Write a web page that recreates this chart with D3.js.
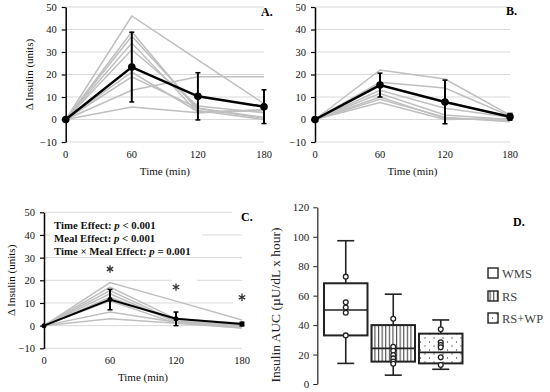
<!DOCTYPE html>
<html>
<head>
<meta charset="utf-8">
<script src="https://cdn.jsdelivr.net/npm/d3@7"></script>
<style>
  body { margin: 0; background: #fff; }
  svg { display: block; font-family: "Liberation Serif", "Times New Roman", serif; }
</style>
</head>
<body>
<div id="chart"></div>
<script>
// ---- data ----
const timePoints = [0, 60, 120, 180];
const yTicksLine = [-10, 0, 10, 20, 30, 40, 50];

// panel A: individual responses + mean/SD
const subjectsA = [
  [0, 46, 26.5, 7],
  [0, 39, 4, 0],
  [0, 37, 5, 0.5],
  [0, 34, 3, 4],
  [0, 31, 6, 3],
  [0, 21, 3.5, 4],
  [0, 19, 5, 1],
  [0, 13, 19, 19],
  [0, 5.5, 3, 4.5]
];
const meanA = [0, 23.3, 10.3, 5.7];
const sdA = [0, 15.5, 10.5, 7.5];

// panel B
const subjectsB = [
  [0, 22, 18, 2],
  [0, 16.5, 14, 1.5],
  [0, 13, 5, 1],
  [0, 11.5, 2, 0],
  [0, 10, 0.5, -0.5],
  [0, 9, 1, -1],
  [0, 7.5, 0, 0.5]
];
const meanB = [0, 15.3, 7.8, 1.2];
const sdB = [0, 5.3, 9.7, 1.5];

// panel C
const subjectsC = [
  [0, 19, 10.8, 2.5],
  [0, 17, 3, 1],
  [0, 15.5, 2, 0],
  [0, 14, 1.5, -0.5],
  [0, 12.5, 2, 0],
  [0, 11, 1, -1],
  [0, 6, 1.5, -1],
  [0, 3, 1, 0.5]
];
const meanC = [0, 11.5, 3, 0.7];
const sdC = [0, 4.5, 3, 0.8];
const starValuesC = [25, 17, 12.5];   // height of * over 60, 120, 180
const statLines = [
  ["Time Effect: ", "p", " < 0.001"],
  ["Meal Effect: ", "p", " < 0.001"],
  ["Time \u00d7 Meal Effect: ", "p", " = 0.001"]
];

// panel D: insulin AUC box plots
const boxGroups = ["WMS", "RS", "RS+WP"];
const boxMin = [14, 6, 10];
const boxQ1 = [33, 15.2, 14];
const boxMedian = [50.3, 24.2, 21.5];
const boxQ3 = [68.4, 40, 34.2];
const boxMax = [97.3, 61, 43.5];
const boxPoints = [
  [72.9, 55.5, 52, 48.4, 33],
  [44.3, 25.3, 22.6, 19.7, 17.4, 15.2, 13.8],
  [37.1, 28.3, 26.5, 24.9, 18.1, 12.9]
];
const yTicksBox = [0, 20, 40, 60, 80, 100, 120];

// ---- drawing ----
const svg = d3.select("#chart").append("svg")
  .attr("width", 550).attr("height", 392);

const defs = svg.append("defs");
const stripes = defs.append("pattern")
  .attr("id", "stripes").attr("patternUnits", "userSpaceOnUse")
  .attr("width", 3.6).attr("height", 4);
stripes.append("rect").attr("width", 3.6).attr("height", 4).attr("fill", "#fff");
stripes.append("line").attr("x1", 0.6).attr("x2", 0.6).attr("y1", 0).attr("y2", 4)
  .attr("stroke", "#333").attr("stroke-width", 1);

const dots = defs.append("pattern")
  .attr("id", "dots").attr("patternUnits", "userSpaceOnUse")
  .attr("width", 9).attr("height", 8);
dots.append("rect").attr("width", 9).attr("height", 8).attr("fill", "#fff");
dots.append("circle").attr("cx", 2).attr("cy", 2).attr("r", 0.65).attr("fill", "#444");
dots.append("circle").attr("cx", 6.5).attr("cy", 6).attr("r", 0.65).attr("fill", "#444");

function linePanel(opt) {
  const g = svg.append("g");
  const x = d3.scaleLinear().domain([0, 180]).range([opt.x0, opt.x1]);
  const y = d3.scaleLinear().domain([-10, 50]).range([opt.yBottom, opt.yTop]);

  // gridlines
  g.selectAll(".grid").data(yTicksLine).enter().append("line")
    .attr("x1", opt.x0).attr("x2", opt.x1)
    .attr("y1", d => y(d)).attr("y2", d => y(d))
    .attr("stroke", "#d9d9d9").attr("stroke-width", 1);

  // y axis
  const yAxis = g.append("g")
    .attr("transform", `translate(${opt.x0},0)`)
    .call(d3.axisLeft(y).tickValues(yTicksLine).tickSize(4).tickSizeOuter(0).tickPadding(5));
  yAxis.attr("font-family", null);
  yAxis.select(".domain").attr("stroke", "#000").attr("stroke-width", 1.5);
  yAxis.selectAll(".tick line").attr("stroke", "#000").attr("stroke-width", 1.2);
  yAxis.selectAll("text").attr("font-size", 10.5).attr("fill", "#111");

  // x tick labels (no axis line in the original)
  g.selectAll(".xt").data(timePoints).enter().append("text")
    .attr("x", d => x(d)).attr("y", opt.yBottom + 16)
    .attr("text-anchor", "middle").attr("font-size", 10.5).attr("fill", "#111")
    .text(d => d);

  g.append("text").attr("x", (opt.x0 + opt.x1) / 2).attr("y", opt.yBottom + 33)
    .attr("text-anchor", "middle").attr("font-size", 11).attr("fill", "#111")
    .text("Time (min)");

  if (opt.yLabel) {
    g.append("text")
      .attr("transform", `translate(${opt.yLabelX},${(opt.yTop + opt.yBottom) / 2}) rotate(-90)`)
      .attr("text-anchor", "middle").attr("font-size", 11).attr("fill", "#111")
      .text("\u0394 Insulin (units)");
  }

  const line = d3.line().x((d, i) => x(timePoints[i])).y(d => y(d));

  g.selectAll(".subj").data(opt.subjects).enter().append("path")
    .attr("d", line).attr("fill", "none")
    .attr("stroke", "#bfbfbf").attr("stroke-width", 1.5);

  // error bars
  opt.mean.forEach((m, i) => {
    const s = opt.sd[i];
    if (!s) return;
    const cx = x(timePoints[i]);
    g.append("line").attr("x1", cx).attr("x2", cx)
      .attr("y1", y(m - s)).attr("y2", y(m + s))
      .attr("stroke", "#000").attr("stroke-width", 2);
    [m - s, m + s].forEach(v => {
      g.append("line").attr("x1", cx - 2.5).attr("x2", cx + 2.5)
        .attr("y1", y(v)).attr("y2", y(v))
        .attr("stroke", "#000").attr("stroke-width", 1.5);
    });
  });

  g.append("path").datum(opt.mean).attr("d", line).attr("fill", "none")
    .attr("stroke", "#000").attr("stroke-width", opt.meanWidth);
  g.selectAll(".mpt").data(opt.mean).enter().append("circle")
    .attr("cx", (d, i) => x(timePoints[i])).attr("cy", d => y(d))
    .attr("r", opt.dotR).attr("fill", "#000");

  return { g, x, y };
}

const pA = linePanel({ x0: 65.7, x1: 264, yTop: 7, yBottom: 142,
  subjects: subjectsA, mean: meanA, sd: sdA, yLabel: true, yLabelX: 33,
  meanWidth: 2.5, dotR: 3.8 });
pA.g.append("text").attr("x", 261).attr("y", 16).attr("font-size", 12)
  .attr("font-weight", "bold").text("A.");

const pB = linePanel({ x0: 315, x1: 510, yTop: 7, yBottom: 142,
  subjects: subjectsB, mean: meanB, sd: sdB, yLabel: false,
  meanWidth: 2.5, dotR: 3.8 });
pB.g.append("text").attr("x", 506).attr("y", 15).attr("font-size", 12)
  .attr("font-weight", "bold").text("B.");

const pC = linePanel({ x0: 44, x1: 242, yTop: 212.3, yBottom: 348.3,
  subjects: subjectsC, mean: meanC, sd: sdC, yLabel: true, yLabelX: 15,
  meanWidth: 2, dotR: 2.5 });

// white boxes behind annotations (they hide gridlines like in the original)
pC.g.append("rect").attr("x", 50).attr("y", 217).attr("width", 152).attr("height", 38).attr("fill", "#fff");
pC.g.append("rect").attr("x", 232).attr("y", 206).attr("width", 22).attr("height", 17).attr("fill", "#fff");
const starX = [60, 120, 180];
const starBoxes = [[104, 262, 14, 14], [172, 275, 25, 16], [233, 285, 14, 20]];
starBoxes.forEach(b => pC.g.append("rect").attr("x", b[0]).attr("y", b[1])
  .attr("width", b[2]).attr("height", b[3]).attr("fill", "#fff"));
const star = d3.symbol().type(d3.symbolAsterisk).size(38);
starX.forEach((t, i) => {
  pC.g.append("path").attr("d", star)
    .attr("transform", `translate(${pC.x(t)},${pC.y(starValuesC[i])})`)
    .attr("fill", "none").attr("stroke", "#333").attr("stroke-width", 1.3);
});
statLines.forEach((parts, i) => {
  const t = pC.g.append("text").attr("x", 54).attr("y", 229 + i * 12.8)
    .attr("font-size", 10.8).attr("font-weight", "bold").attr("fill", "#111");
  t.append("tspan").text(parts[0]);
  t.append("tspan").attr("font-style", "italic").text(parts[1]);
  t.append("tspan").text(parts[2]);
});
pC.g.append("text").attr("x", 241).attr("y", 221).attr("font-size", 12)
  .attr("font-weight", "bold").text("C.");

// ---- panel D ----
const gD = svg.append("g");
const yD = d3.scaleLinear().domain([0, 120]).range([384, 207.3]);
const xD = d3.scaleBand().domain(boxGroups).range([324, 462.5]).paddingInner(0.084).paddingOuter(0);
const fills = ["#fff", "url(#stripes)", "url(#dots)"];

const yAxisD = gD.append("g").attr("transform", "translate(317.3,0)")
  .call(d3.axisLeft(yD).tickValues(yTicksBox).tickSize(4).tickSizeOuter(0).tickPadding(4));
yAxisD.attr("font-family", null);
yAxisD.select(".domain").attr("stroke", "#222").attr("stroke-width", 1.2);
yAxisD.selectAll(".tick line").attr("stroke", "#222");
yAxisD.selectAll("text").attr("font-size", 11).attr("fill", "#222");

gD.append("text").attr("transform", "translate(280,305) rotate(-90)")
  .attr("text-anchor", "middle").attr("font-size", 13.5).attr("fill", "#222")
  .text("Insulin AUC (\u00b5U/dL x hour)");

boxGroups.forEach((grp, i) => {
  const bx = xD(grp), bw = xD.bandwidth(), cx = bx + bw / 2;
  // whiskers
  gD.append("line").attr("x1", cx).attr("x2", cx).attr("y1", yD(boxMax[i])).attr("y2", yD(boxQ3[i]))
    .attr("stroke", "#222").attr("stroke-width", 1.6);
  gD.append("line").attr("x1", cx).attr("x2", cx).attr("y1", yD(boxQ1[i])).attr("y2", yD(boxMin[i]))
    .attr("stroke", "#222").attr("stroke-width", 1.6);
  [boxMax[i], boxMin[i]].forEach(v => gD.append("line")
    .attr("x1", cx - 8.5).attr("x2", cx + 8.5).attr("y1", yD(v)).attr("y2", yD(v))
    .attr("stroke", "#222").attr("stroke-width", 1.6));
  gD.append("rect").attr("x", bx).attr("y", yD(boxQ3[i]))
    .attr("width", bw).attr("height", yD(boxQ1[i]) - yD(boxQ3[i]))
    .attr("fill", fills[i]).attr("stroke", "#222").attr("stroke-width", 2);
  gD.append("line").attr("x1", bx).attr("x2", bx + bw)
    .attr("y1", yD(boxMedian[i])).attr("y2", yD(boxMedian[i]))
    .attr("stroke", "#222").attr("stroke-width", 1.6);
  gD.selectAll(null).data(boxPoints[i]).enter().append("circle")
    .attr("cx", cx).attr("cy", d => yD(d)).attr("r", 2.4)
    .attr("fill", "#fff").attr("stroke", "#222").attr("stroke-width", 1.3);
});

// legend
const legY = [273, 296, 318];
boxGroups.forEach((grp, i) => {
  gD.append("rect").attr("x", 488).attr("y", legY[i] - 5).attr("width", 10).attr("height", 10)
    .attr("fill", fills[i]).attr("stroke", "#222").attr("stroke-width", 1.4);
  gD.append("text").attr("x", 502).attr("y", legY[i] + 4.5)
    .attr("font-size", 12.5).attr("fill", "#444").text(grp);
});
gD.append("text").attr("x", 513).attr("y", 226).attr("font-size", 12)
  .attr("font-weight", "bold").text("D.");
</script>
</body>
</html>
